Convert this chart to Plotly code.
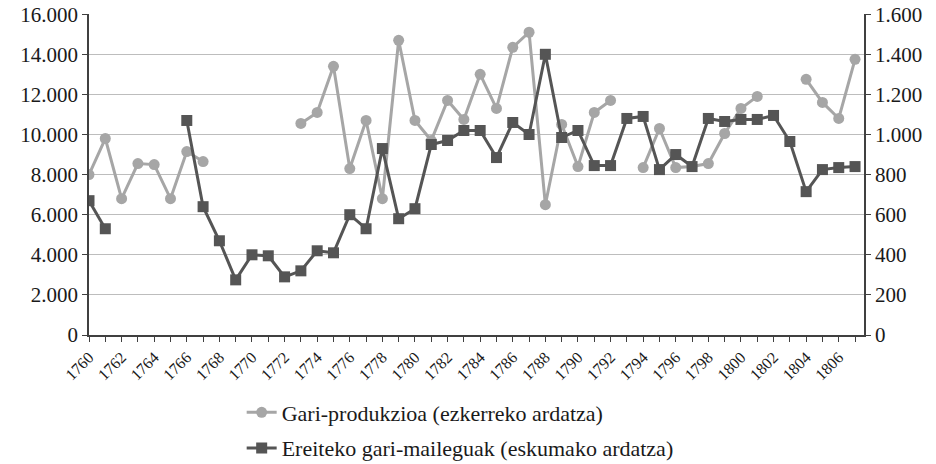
import plotly.graph_objects as go

years = list(range(1760, 1808))

# Gari-produkzioa (left axis)
production = [8000, 9800, 6800, 8550, 8500, 6800, 9150, 8650,
              None, None, None, None, None,
              10550, 11100, 13400, 8300, 10700, 6800, 14700, 10700,
              9700, 11700, 10750, 13000, 11300, 14350, 15100, 6500,
              10500, 8400, 11100, 11700, None, 8350, 10300, 8350,
              8400, 8550, 10050, 11300, 11900, None, None, 12750,
              11600, 10800, 13750]

# Ereiteko gari-maileguak (right axis)
loans = [670, 530, None, None, None, None, 1070, 640, 470, 275, 400,
         395, 290, 320, 420, 410, 600, 530, 930, 580, 630, 950, 970,
         1020, 1020, 885, 1060, 1000, 1400, 985, 1020, 845, 845, 1080,
         1090, 825, 900, 840, 1080, 1065, 1075, 1075, 1095, 965, 715,
         825, 835, 840]

tick_text = [str(y) if y % 2 == 0 else "" for y in years]

name_prod = "Gari-produkzioa (ezkerreko ardatza)"
name_loans = "Ereiteko gari-maileguak (eskumako ardatza)"

serif = "Liberation Serif"
axis_col = "#404040"

fig = go.Figure()
fig.add_trace(go.Scatter(
    x=years, y=production, name=name_prod, mode="lines+markers",
    line=dict(color="#a6a6a6", width=3),
    marker=dict(symbol="circle", size=11, color="#a6a6a6"),
    connectgaps=False, yaxis="y", legendgroup="a"))
fig.add_trace(go.Scatter(
    x=years, y=loans, name=name_loans, mode="lines+markers",
    line=dict(color="#555555", width=3),
    marker=dict(symbol="square", size=11, color="#555555"),
    connectgaps=False, yaxis="y2", legendgroup="b"))

fig.update_layout(
    width=936, height=464,
    margin=dict(l=89, r=72, t=14, b=129, autoexpand=False),
    paper_bgcolor="white", plot_bgcolor="white",
    separators=",.",
    font=dict(family=serif, color="#1a1a1a", size=18),
    showlegend=True,
    legend=dict(x=0.197, y=-0.176, xanchor="left", yanchor="top",
                font=dict(size=22, family=serif, color="#1a1a1a"),
                traceorder="grouped", tracegroupgap=4,
                bgcolor="rgba(0,0,0,0)"),
    xaxis=dict(
        range=[1760, 1807.55], tickmode="array", tickvals=years,
        ticktext=tick_text, tickangle=-45, ticks="outside", ticklen=5,
        tickcolor=axis_col, showline=True, linecolor=axis_col, linewidth=1.5,
        showgrid=False, zeroline=False, automargin=False,
        tickfont=dict(size=16, family=serif)),
    yaxis=dict(
        range=[0, 16010], tickvals=[0, 2000, 4000, 6000, 8000, 10000, 12000, 14000, 16000],
        tickformat=",d", ticks="outside",
        ticklen=5, tickcolor=axis_col, showline=True, linecolor=axis_col,
        linewidth=1.5, showgrid=True, gridcolor="#bdbdbd", gridwidth=1.2,
        zeroline=False, automargin=False, tickfont=dict(size=21, family=serif)),
    yaxis2=dict(
        range=[0, 1601], tickvals=[0, 200, 400, 600, 800, 1000, 1200, 1400, 1600],
        tickformat=",d", overlaying="y",
        side="right", ticks="outside", ticklen=5, tickcolor=axis_col,
        showline=True, linecolor=axis_col, linewidth=1.5, showgrid=False,
        zeroline=False, automargin=False, tickfont=dict(size=21, family=serif)),
)

fig.write_html("out.html", config={"displayModeBar": False},
               post_script="document.body.style.margin='0';")
